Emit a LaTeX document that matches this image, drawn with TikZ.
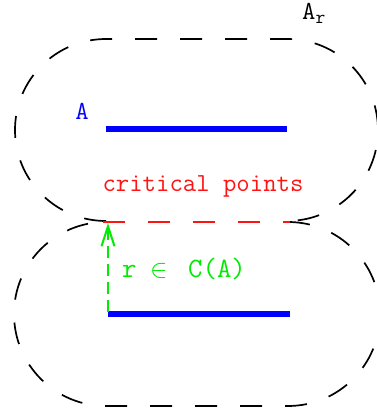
\documentclass[tikz,border=0pt]{standalone}
\usepackage{fontspec}
\usepackage{graphicx}
\usetikzlibrary{arrows.meta}
\definecolor{cgreen}{RGB}{0,235,0}
\definecolor{cred}{RGB}{255,20,20}
\definecolor{cblue}{RGB}{0,0,255}
\tikzset{
  region/.style={draw=black, line width=1.7pt, dash pattern=on 22pt off 23pt},
  seg/.style={draw=cblue, line width=6pt},
  crit/.style={draw=cred, line width=2pt, dash pattern=on 22pt off 23pt},
  lbl/.style={font=\ttfamily\fontsize{26}{28}\selectfont, inner sep=0pt},
}
\begin{document}
\begin{tikzpicture}[x=1pt,y=1pt]
\useasboundingbox (0,0) rectangle (377,412);
% top region A_r (its lower straight edge coincides with the critical line)
\draw[region] (106,191) arc[start angle=270,end angle=90,radius=91]
  -- (287,373) arc[start angle=90,end angle=-90,radius=91];
% bottom region
\draw[region] (288,190) arc[start angle=90,end angle=-90,radius=92]
  -- (106,6) arc[start angle=270,end angle=90,radius=92];
% segments
\coordinate (a1) at (106,283);
\coordinate (a2) at (287,283);
\draw[seg] (a1) -- (a2);
\coordinate (b1) at (108,97.5);
\coordinate (b2) at (290,97.5);
\draw[seg] (b1) -- (b2);
% critical points line
\coordinate (c1) at (103,190);
\coordinate (c2) at (290,190);
\draw[crit] (c1) -- (c2);
% arrow
\coordinate (r0) at (108,100);
\coordinate (r1) at (108,189);
\draw[cgreen, line width=2pt, dash pattern=on 12pt off 6pt,
  -{Straight Barb[length=20pt,width=13pt,line width=2pt]}] (r0) -- (r1);
% labels
\node[lbl, anchor=base west] (Ar) at (302,392) {A\raisebox{-4pt}{\fontsize{19}{20}\selectfont r}};
\node[lbl, text=cblue, anchor=base] (A) at (82,292) {A};
\node[lbl, text=cred, anchor=base] (cp) at (203,220) {critical points};
\node[lbl, text=cgreen, anchor=base west, font=\ttfamily\fontsize{28}{30}\selectfont] (rc) at (122,134)
  {\makebox[28pt][l]{r}\makebox[38pt][l]{\scalebox{1.05}{$\in$}}C(A)};
\end{tikzpicture}
\end{document}
